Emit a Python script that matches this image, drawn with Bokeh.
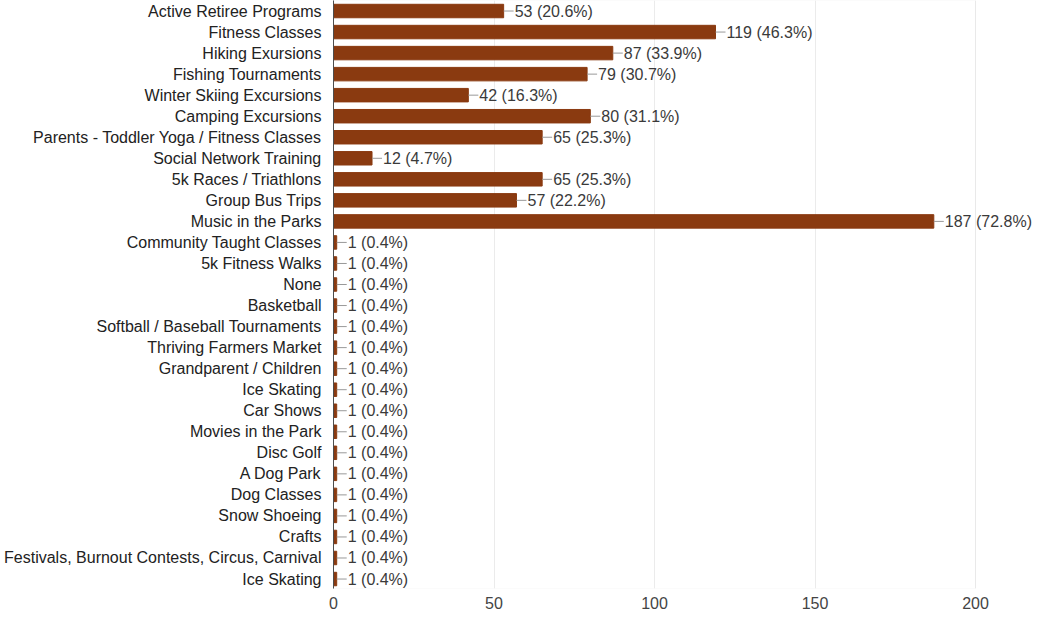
from bokeh.plotting import figure
from bokeh.models import Range1d, FixedTicker, ColumnDataSource, BoxAnnotation
from bokeh.core.properties import value
from bokeh.embed import file_html
from bokeh.resources import INLINE

categories = [
    "Active Retiree Programs", "Fitness Classes", "Hiking Exursions", "Fishing Tournaments",
    "Winter Skiing Excursions", "Camping Excursions", "Parents - Toddler Yoga / Fitness Classes",
    "Social Network Training", "5k Races / Triathlons", "Group Bus Trips", "Music in the Parks",
    "Community Taught Classes", "5k Fitness Walks", "None", "Basketball",
    "Softball / Baseball Tournaments", "Thriving Farmers Market", "Grandparent / Children",
    "Ice Skating", "Car Shows", "Movies in the Park", "Disc Golf", "A Dog Park", "Dog Classes",
    "Snow Shoeing", "Crafts", "Festivals, Burnout Contests, Circus, Carnival", "Ice Skating",
]
counts = [53, 119, 87, 79, 42, 80, 65, 12, 65, 57, 187] + [1] * 17
percents = ["20.6", "46.3", "33.9", "30.7", "16.3", "31.1", "25.3", "4.7", "25.3", "22.2", "72.8"] + ["0.4"] * 17
x_ticks = [0, 50, 100, 150, 200]

ys = list(range(len(categories)))
labels = [f"{c} ({p}%)" for c, p in zip(counts, percents)]
src = ColumnDataSource(dict(y=ys, c=counts, lab=labels))

FONT = "Liberation Sans"

p = figure(width=1037, height=611, output_backend="svg", toolbar_location=None,
           x_range=Range1d(0, 219.3), y_range=Range1d(27.45, -0.5),
           min_border_left=333, min_border_right=0, min_border_top=0, min_border_bottom=21)
p.outline_line_color = None
p.background_fill_color = "white"
p.border_fill_color = "white"

p.add_layout(BoxAnnotation(left=x_ticks[0], right=x_ticks[-1], fill_color=None,
                           line_color="#e6e6e6", line_width=1))

p.hbar(y="y", right="c", left=0, height=0.64, source=src,
       fill_color="#8a3a10", line_color="#8a3a10")
p.ray(x="c", y="y", length=10, length_units="screen", angle=0, source=src,
      line_color="#999999", line_width=1)
p.text(x="c", y="y", text="lab", source=src, x_offset=11, text_baseline="middle",
       text_align="left", text_font=value(FONT), text_font_size="16px", text_color="#3a3a3a")

p.xgrid.ticker = FixedTicker(ticks=x_ticks)
p.xgrid.grid_line_color = "#ebebeb"
p.ygrid.grid_line_color = None

p.xaxis.ticker = FixedTicker(ticks=x_ticks)
p.xaxis.axis_line_color = None
p.xaxis.major_tick_line_color = None
p.xaxis.minor_tick_line_color = None
p.xaxis.major_label_standoff = 2
p.xaxis.major_label_text_font = FONT
p.xaxis.major_label_text_font_size = "16px"
p.xaxis.major_label_text_color = "#444444"

p.yaxis.ticker = FixedTicker(ticks=ys)
p.yaxis.major_label_overrides = {i: c for i, c in enumerate(categories)}
p.yaxis.axis_line_color = "#333333"
p.yaxis.major_tick_line_color = None
p.yaxis.minor_tick_line_color = None
p.yaxis.major_label_standoff = 6
p.yaxis.major_label_text_font = FONT
p.yaxis.major_label_text_font_size = "16px"
p.yaxis.major_label_text_color = "#222222"

open("out.html", "w").write(file_html(p, INLINE))
